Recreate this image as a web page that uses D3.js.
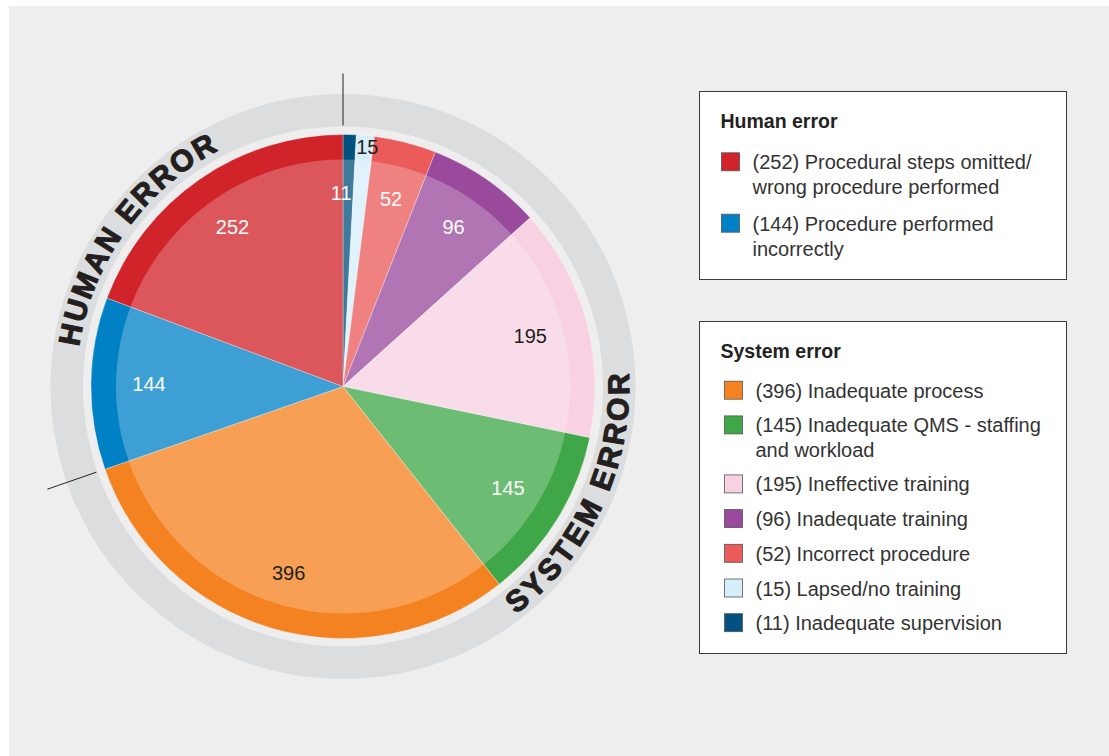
<!DOCTYPE html>
<html>
<head>
<meta charset="utf-8">
<script src="https://cdn.jsdelivr.net/npm/d3@7"></script>
<style>
  body { margin: 0; background: #fff; }
  svg { display: block; }
</style>
</head>
<body>
<svg id="chart" width="1109" height="756"></svg>
<script>
// slices in drawing order, clockwise from 12 o'clock
const categories = [
  "Inadequate supervision",
  "Lapsed/no training",
  "Incorrect procedure",
  "Inadequate training",
  "Ineffective training",
  "Inadequate QMS - staffing and workload",
  "Inadequate process",
  "Procedure performed incorrectly",
  "Procedural steps omitted/ wrong procedure performed"
];
const values = [11, 15, 52, 96, 195, 145, 396, 144, 252];
const groups = ["system", "system", "system", "system", "system", "system", "system", "human", "human"];
const colors = ["#02517e", "#d6eefa", "#ea5b5a", "#9a4a9c", "#f8d2e3", "#40a748", "#f58220", "#0081c6", "#d1232a"];
const darkLabel = ["Lapsed/no training", "Ineffective training", "Inadequate process"];

// legend wording, broken the way the original wraps it
const humanLegend = ["Procedural steps omitted/ wrong procedure performed", "Procedure performed incorrectly"];
const systemLegend = ["Inadequate process", "Inadequate QMS - staffing and workload", "Ineffective training",
  "Inadequate training", "Incorrect procedure", "Lapsed/no training", "Inadequate supervision"];
const legendLines = {
  "Procedural steps omitted/ wrong procedure performed": ["Procedural steps omitted/", "wrong procedure performed"],
  "Procedure performed incorrectly": ["Procedure performed", "incorrectly"],
  "Inadequate QMS - staffing and workload": ["Inadequate QMS - staffing", "and workload"]
};

const data = categories.map((c, i) => ({ name: c, value: values[i], group: groups[i], color: colors[i] }));

const svg = d3.select("#chart");
const cx = 343, cy = 386.5;
const R = 252, rBand = 227, ringIn = 260, ringOut = 292.5;
const font = "'Liberation Sans', Arial, Helvetica, sans-serif";
const ink = "#231f20";

svg.append("rect").attr("x", 9).attr("y", 6).attr("width", 1100).attr("height", 750).attr("fill", "#eeeeee");

const g = svg.append("g").attr("transform", `translate(${cx},${cy})`);

// grey outer ring
g.append("path")
  .attr("d", d3.arc()({ innerRadius: ringIn, outerRadius: ringOut, startAngle: 0, endAngle: 2 * Math.PI }))
  .attr("fill", "#dcdddf");

const pie = d3.pie().value(d => d.value).sort(null);
const arcs = pie(data);
const arc = d3.arc().innerRadius(0).outerRadius(R);

g.selectAll("path.slice").data(arcs).join("path")
  .attr("class", "slice")
  .attr("d", arc)
  .attr("fill", d => d.data.color)
  .attr("stroke", "#fff").attr("stroke-width", 0.5).attr("stroke-opacity", 0.6);

// lighter inner disc, leaves the darker band on the rim
g.append("circle").attr("r", rBand).attr("fill", "#fff").attr("fill-opacity", 0.24);

// value labels
const labelArc = d3.arc().innerRadius(194).outerRadius(194);
const bandArc = d3.arc().innerRadius(240).outerRadius(240);
g.selectAll("text.val").data(arcs).join("text")
  .attr("class", "val")
  .attr("transform", d => {
    const small = d.data.value < 12 ? -7 : 0;
    const [x, y] = d.data.name === "Lapsed/no training" ? bandArc.centroid(d) : labelArc.centroid(d);
    return `translate(${x + small + (d.data.name === "Lapsed/no training" ? 3 : 0)},${y})`;
  })
  .attr("text-anchor", "middle")
  .attr("dominant-baseline", "central")
  .attr("font-family", font)
  .attr("font-size", 20)
  .attr("fill", d => darkLabel.includes(d.data.name) ? ink : "#fff")
  .text(d => d.value);

// group boundary ticks
const humanStart = arcs.find(a => a.data.group === "human").startAngle;
[0, humanStart].forEach(a => {
  g.append("line")
    .attr("x1", 261 * Math.sin(a)).attr("y1", -261 * Math.cos(a))
    .attr("x2", 313 * Math.sin(a)).attr("y2", -313 * Math.cos(a))
    .attr("stroke", ink).attr("stroke-width", 1);
});

// curved group titles
const rad = d => d * Math.PI / 180;
function arcPath(r, a0, a1, sweep) {
  const p = a => `${(r * Math.sin(a)).toFixed(2)},${(-r * Math.cos(a)).toFixed(2)}`;
  return `M${p(a0)} A${r},${r} 0 0 ${sweep} ${p(a1)}`;
}
const defs = svg.append("defs");
const titles = [
  { id: "humanArc", text: "HUMAN ERROR", r: 267, a0: rad(278.5), a1: rad(332.1), sweep: 1 },
  { id: "systemArc", text: "SYSTEM ERROR", r: 286, a0: rad(142.8), a1: rad(87.4), sweep: 0 }
];
titles.forEach(t => {
  defs.append("path").attr("id", t.id).attr("d", arcPath(t.r, t.a0, t.a1, t.sweep));
  const txt = g.append("text")
    .attr("font-family", font).attr("font-weight", "bold").attr("font-size", 30)
    .attr("fill", ink).attr("stroke", ink).attr("stroke-width", 1.1).attr("stroke-linejoin", "round");
  txt.append("textPath").attr("href", "#" + t.id).text(t.text);
  const target = t.r * Math.abs(t.a1 - t.a0);
  const natural = txt.node().getComputedTextLength();
  txt.attr("letter-spacing", (target - natural) / (t.text.length - 1));
});

// legends
function legend(y0, h, title, names, o) {
  const lg = svg.append("g");
  lg.append("rect").attr("x", 699.5).attr("y", y0 + 0.5).attr("width", 367).attr("height", h)
    .attr("fill", "#fff").attr("stroke", "#3a3a3a").attr("stroke-width", 1);
  lg.append("text").attr("x", 720.5).attr("y", y0 + 36.5)
    .attr("font-family", font).attr("font-weight", "bold").attr("font-size", 19.5)
    .attr("fill", "#222").text(title);
  let y = y0 + o.first;
  names.forEach(n => {
    const d = data.find(e => e.name === n);
    const lines = legendLines[n] || [n];
    lg.append("rect").attr("x", o.sx + 0.5).attr("y", y - 16.5).attr("width", 18).attr("height", 18)
      .attr("fill", d.color).attr("stroke", "#555").attr("stroke-width", 0.8);
    const t = lg.append("text").attr("font-family", font).attr("font-size", 20).attr("fill", "#333");
    lines.forEach((l, i) => {
      t.append("tspan").attr("x", o.tx).attr("y", y + i * o.line)
        .text(i === 0 ? `(${d.value}) ${l}` : l);
    });
    y += (lines.length - 1) * o.line + o.gap;
  });
}
legend(91, 188, "Human error", humanLegend, { first: 78.3, sx: 721, tx: 752.5, line: 25, gap: 36.4 });
legend(321, 332, "System error", systemLegend, { first: 76.7, sx: 724, tx: 755.5, line: 24.3, gap: 34.7 });
</script>
</body>
</html>
